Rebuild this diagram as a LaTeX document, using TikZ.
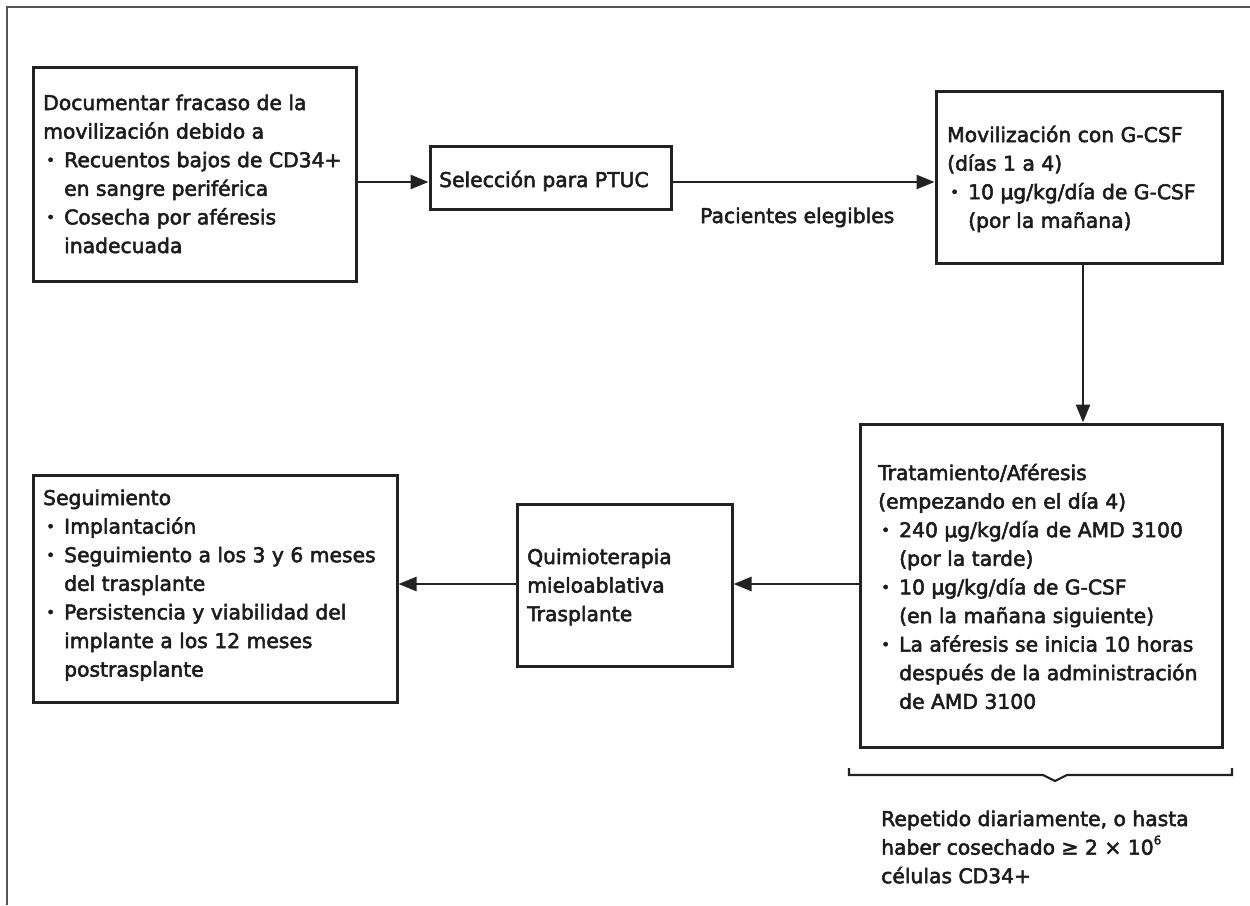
\documentclass[tikz,border=0pt]{standalone}
\usepackage{fontspec}
\setmainfont{DejaVu Sans}
\newfontfamily\heavytext{DejaVu Sans}[FakeBold=2.6]
\usetikzlibrary{arrows.meta}

\definecolor{ink}{HTML}{1C1C1C}
\definecolor{boxc}{HTML}{222222}
\definecolor{framec}{HTML}{555555}

% text lines: plain, bulleted, and continuation of a bulleted line
\newlength\bind \setlength\bind{21pt}
\newcommand\dotmark{\raisebox{0.09em}{\fontsize{15}{15}\selectfont •}}
\newcommand\tline[1]{\hbox{#1}}
\newcommand\bline[1]{\hbox{\hbox to \bind{\hskip 3pt\dotmark\hss}#1}}
\newcommand\kline[1]{\hbox{\hskip\bind #1}}
\newcommand\lines[1]{\vtop{\lineskiplimit=-100pt\lineskip=0pt #1}}
\newcommand\supsix{\raisebox{0.5em}{\fontsize{12}{12}\selectfont 6}}

\begin{document}
\begin{tikzpicture}[x=1pt,y=-1pt,
  box/.style={draw=boxc, line width=3pt, inner sep=0pt},
  txt/.style={anchor=base west, inner sep=0pt, text=ink,
              font=\heavytext\fontsize{20.3}{28.6}\selectfont},
  arr/.style={draw=boxc, line width=2.6pt, -{Triangle[length=18pt,width=14pt]}}]

\useasboundingbox (0,0) rectangle (1250,905);

% open frame: top and left edges only
\draw[framec, line width=2.2pt] (1250,7) -- (7,7) -- (7,905);

% boxes
\node[box, minimum width=323pt, minimum height=214pt] (b1) at (194.5,174) {};
\node[box, minimum width=241pt, minimum height=63pt]  (b2) at (550.5,177.5) {};
\node[box, minimum width=286pt, minimum height=172pt] (b3) at (1079,177) {};
\node[box, minimum width=362pt, minimum height=323pt] (b4) at (1041,585.5) {};
\node[box, minimum width=215pt, minimum height=162pt] (b5) at (624.5,585) {};
\node[box, minimum width=364pt, minimum height=227pt] (b6) at (215,588.5) {};

% box texts
\node[txt] (t1) at (43,110) {\lines{%
  \tline{Documentar fracaso de la}
  \tline{movilización debido a}
  \bline{Recuentos bajos de CD34+}
  \kline{en sangre periférica}
  \bline{Cosecha por aféresis}
  \kline{inadecuada}}};

\node[txt] (t2) at (439,187) {Selección para PTUC};

\node[txt] (t3) at (947,142) {\lines{%
  \tline{Movilización con G-CSF}
  \tline{(días 1 a 4)}
  \bline{10 μg/kg/día de G-CSF}
  \kline{(por la mañana)}}};

\node[txt] (t4) at (878,480) {\lines{%
  \tline{Tratamiento/Aféresis}
  \tline{(empezando en el día 4)}
  \bline{240 μg/kg/día de AMD 3100}
  \kline{(por la tarde)}
  \bline{10 μg/kg/día de G-CSF}
  \kline{(en la mañana siguiente)}
  \bline{La aféresis se inicia 10 horas}
  \kline{después de la administración}
  \kline{de AMD 3100}}};

\node[txt] (t5) at (527,564) {\lines{%
  \tline{Quimioterapia}
  \tline{mieloablativa}
  \tline{Trasplante}}};

\node[txt] (t6) at (43,505) {\lines{%
  \tline{Seguimiento}
  \bline{Implantación}
  \bline{Seguimiento a los 3 y 6 meses}
  \kline{del trasplante}
  \bline{Persistencia y viabilidad del}
  \kline{implante a los 12 meses}
  \kline{postrasplante}}};

\node[txt] (lab) at (700,223) {Pacientes elegibles};

\node[txt] (rep) at (881,826) {\lines{%
  \tline{Repetido diariamente, o hasta}
  \tline{haber cosechado ≥ 2 × 10\supsix}
  \tline{células CD34+}}};

% connector levels
\coordinate (rowA) at (0,182);
\coordinate (rowB) at (0,584);
\coordinate (colA) at (1083,0);

\draw[arr] (b1.east |- rowA) -- (b2.west |- rowA);
\draw[arr] (b2.east |- rowA) -- (b3.west |- rowA);
\draw[arr] (b3.south -| colA) -- (b4.north -| colA);
\draw[arr] (b4.west |- rowB) -- (b5.east |- rowB);
\draw[arr] (b5.west |- rowB) -- (b6.east |- rowB);

% brace under the treatment box
\draw[boxc, line width=2.2pt] (849,768) -- (849,775) -- (1043,775) -- (1055,781)
  -- (1067,775) -- (1232,775) -- (1232,768);

\end{tikzpicture}
\end{document}
